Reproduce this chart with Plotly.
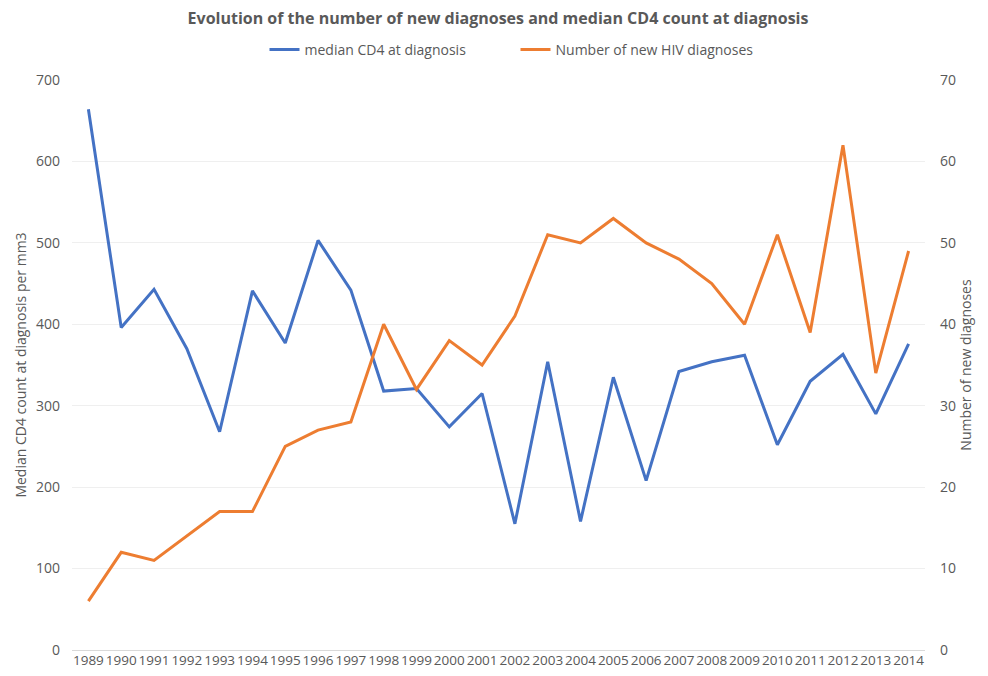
import plotly.graph_objects as go

years = [str(y) for y in range(1989, 2015)]
median_cd4 = [664, 396, 443, 370, 268, 441, 377, 503, 442, 318, 321, 274, 315, 155,
              354, 158, 335, 208, 342, 354, 362, 252, 330, 363, 290, 376]
new_diagnoses = [6, 12, 11, 14, 17, 17, 25, 27, 28, 40, 32, 38, 35, 41,
                 51, 50, 53, 50, 48, 45, 40, 51, 39, 62, 34, 49]

FONT = "Open Sans"
GREY = "#595959"
W, H = 980, 668  # page adds an 8px body margin

fig = go.Figure()
fig.add_trace(go.Scatter(x=years, y=median_cd4, name="median CD4 at diagnosis",
                         mode="lines", line=dict(color="#4472C4", width=3), yaxis="y"))
fig.add_trace(go.Scatter(x=years, y=new_diagnoses, name="Number of new HIV diagnoses",
                         mode="lines", line=dict(color="#ED7D31", width=3), yaxis="y2"))

fig.update_layout(
    width=W, height=H,
    paper_bgcolor="white", plot_bgcolor="white",
    margin=dict(l=64, r=63, t=72, b=26, autoexpand=False),
    font=dict(family=FONT, size=14, color=GREY),
    title=dict(text="<b>Evolution of the number of new diagnoses and median CD4 count at diagnosis</b>",
               x=0.5, xanchor="center", yref="container", y=1 - 10 / H, yanchor="middle",
               font=dict(family=FONT, size=16, color=GREY), automargin=False),
    legend=dict(orientation="h", x=0.5 + 17 / 853, xanchor="center", yref="container",
                y=1 - 42 / H, yanchor="middle",
                font=dict(family=FONT, size=14, color=GREY), itemwidth=30,
                entrywidth=206, entrywidthmode="pixels",
                traceorder="normal"),
    showlegend=True,
    xaxis=dict(type="category", range=[-0.5, 25.5], tickmode="linear", dtick=1, tickangle=0,
               showgrid=False, showline=False, zeroline=False, automargin=False,
               ticks="", tickfont=dict(size=13.5, color=GREY)),
    yaxis=dict(range=[0, 700], dtick=100, showgrid=True, gridcolor="#efefef", gridwidth=1,
               zeroline=True, zerolinecolor="#d9d9d9", zerolinewidth=1, automargin=False,
               showline=False, ticks="", ticklabelstandoff=11, tickfont=dict(size=14),
               title=dict(text="Median CD4 count at diagnosis per mm3", standoff=6,
                          font=dict(size=14, color=GREY))),
    yaxis2=dict(range=[0, 70], dtick=10, overlaying="y", side="right", showgrid=False,
                zeroline=False, showline=False, ticks="", ticklabelstandoff=14, automargin=False,
                tickfont=dict(size=14),
                title=dict(text="Number of new diagnoses", standoff=4,
                           font=dict(size=14, color=GREY))),
)

fig.write_html("out.html")
